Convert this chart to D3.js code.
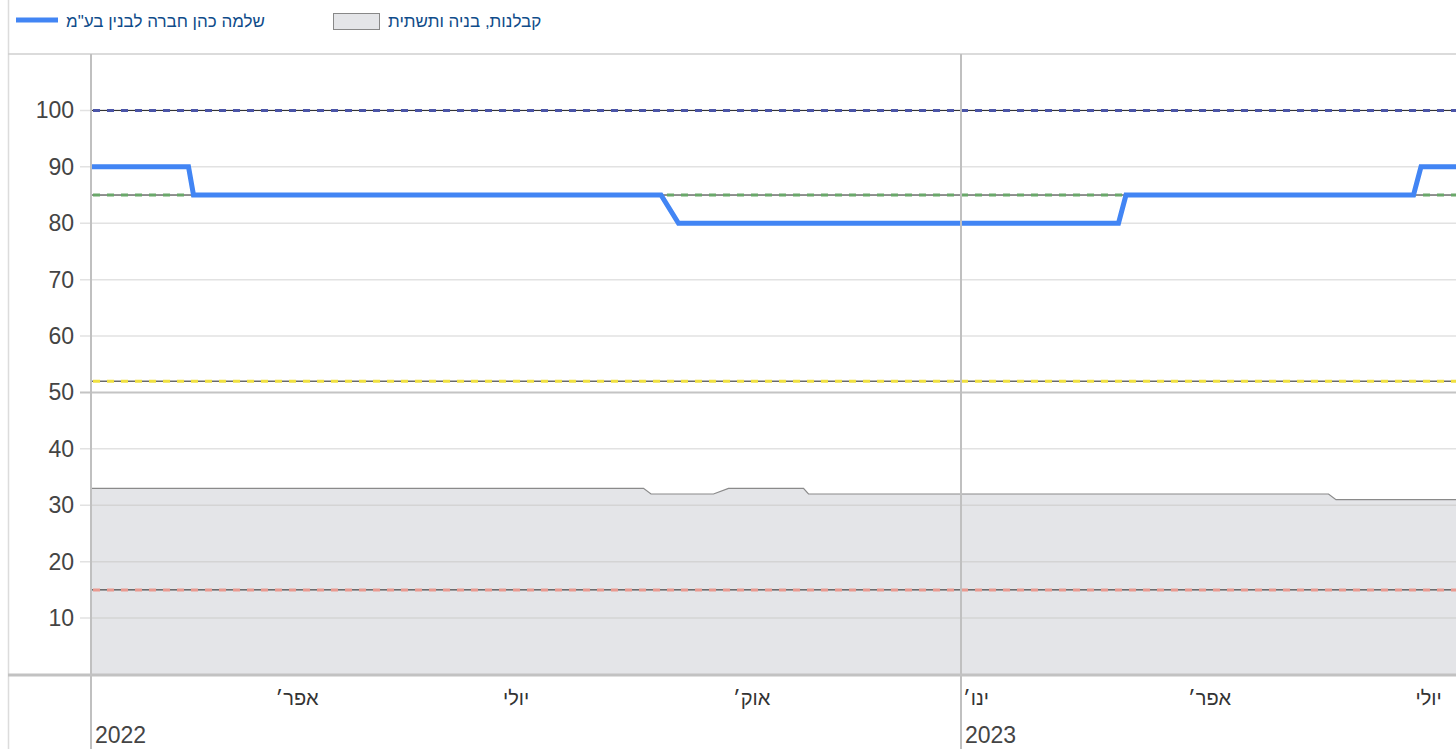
<!DOCTYPE html>
<html>
<head>
<meta charset="utf-8">
<script src="https://cdn.jsdelivr.net/npm/d3@7"></script>
<style>
  html, body { margin: 0; padding: 0; background: #fff; overflow: hidden; }
  svg { display: block; font-family: Arial, "Liberation Sans", sans-serif; }
</style>
</head>
<body>
<svg id="chart" width="1456" height="749"></svg>
<script>
// ---- data ----
const companyName = 'שלמה כהן חברה לבנין בע"מ';
const sectorName = "קבלנות, בניה ותשתית";
const companyDates = ["2022-01-18","2022-02-26","2022-02-28","2022-09-03","2022-09-10","2023-03-05","2023-03-08","2023-07-01","2023-07-04","2023-07-25"];
const companyValues = [90, 90, 85, 85, 80, 80, 85, 85, 90, 90];
const sectorDates = ["2022-01-18","2022-08-27","2022-08-30","2022-09-24","2022-09-30","2022-10-30","2022-11-01","2023-05-28","2023-05-31","2023-07-25"];
const sectorValues = [33, 33, 32, 32, 33, 33, 32, 32, 31, 31];
const refValues = [100, 85, 52, 15];
const refColors = ["#4b55a8", "#6aa86a", "#f0e040", "#e99a90"];
const yTicks = [10, 20, 30, 40, 50, 60, 70, 80, 90, 100];
const monthTicks = ["2022-04-01","2022-07-01","2022-10-01","2023-01-01","2023-04-01","2023-07-01"];
const monthLabels = ["אפר׳","יולי","אוק׳","ינו׳","אפר׳","יולי"];
const yearTicks = ["2022-01-18","2023-01-01"];
const yearLabels = ["2022","2023"];
const xDomain = ["2022-01-18","2023-07-18"];

(function () {
// ---- layout ----
const W = 1456, H = 749;
const pLeft = 91, pRight = 1456, pTop = 54, pBottom = 674.5;
const parse = d3.utcParse("%Y-%m-%d");
const svg = d3.select("#chart");

const x = d3.scaleUtc().domain(xDomain.map(parse)).range([pLeft, pRight]);
const y = d3.scaleLinear().domain([0, 110]).range([pBottom, pTop]);

// frame lines
svg.append("line").attr("x1", 8.5).attr("x2", 8.5).attr("y1", 0).attr("y2", H)
  .attr("stroke", "#dcdcdc").attr("stroke-width", 1.5);
svg.append("line").attr("x1", 8).attr("x2", W).attr("y1", 54).attr("y2", 54)
  .attr("stroke", "#cfcfcf").attr("stroke-width", 1.5);

svg.append("defs").append("clipPath").attr("id", "plotclip")
  .append("rect").attr("x", pLeft).attr("y", pTop).attr("width", pRight - pLeft + 20).attr("height", pBottom - pTop);

// gridlines
const grid = svg.append("g");
grid.selectAll("line").data(yTicks).join("line")
  .attr("x1", 80).attr("x2", W)
  .attr("y1", d => y(d)).attr("y2", d => y(d))
  .attr("stroke", d => d === 50 ? "#c4c4c4" : "#e2e2e2")
  .attr("stroke-width", d => d === 50 ? 2 : 1.5);

// area (sector)
const plot = svg.append("g").attr("clip-path", "url(#plotclip)");
const sector = sectorDates.map((d, i) => ({ date: parse(d), v: sectorValues[i] }));
const company = companyDates.map((d, i) => ({ date: parse(d), v: companyValues[i] }));

plot.append("path").datum(sector)
  .attr("d", d3.area().x(d => x(d.date)).y0(y(0)).y1(d => y(d.v)))
  .attr("fill", "#e4e5e8");
plot.append("path").datum(sector)
  .attr("d", d3.line().x(d => x(d.date)).y(d => y(d.v)))
  .attr("fill", "none").attr("stroke", "#8a8a8a").attr("stroke-width", 1.2);

// gridlines over area
plot.selectAll("line.g2").data(yTicks.filter(d => d < 33)).join("line")
  .attr("x1", pLeft).attr("x2", W)
  .attr("y1", d => y(d)).attr("y2", d => y(d))
  .attr("stroke", "#d4d4d4").attr("stroke-width", 1.5);

// reference lines
refValues.forEach((v, i) => {
  plot.append("line").attr("x1", pLeft).attr("x2", W + 10)
    .attr("y1", y(v)).attr("y2", y(v))
    .attr("stroke", "#222").attr("stroke-width", 1);
  plot.append("line").attr("x1", pLeft + 2).attr("x2", W + 10)
    .attr("y1", y(v)).attr("y2", y(v))
    .attr("stroke", refColors[i]).attr("stroke-width", 3)
    .attr("stroke-dasharray", "7,7");
});

// company line
plot.append("path").datum(company)
  .attr("d", d3.line().x(d => x(d.date)).y(d => y(d.v)))
  .attr("fill", "none").attr("stroke", "#4285f4").attr("stroke-width", 5)
  .attr("stroke-linejoin", "miter");

// vertical axis lines
svg.append("line").attr("x1", pLeft).attr("x2", pLeft).attr("y1", 54).attr("y2", H)
  .attr("stroke", "#c0c0c0").attr("stroke-width", 2);
svg.selectAll("line.yr").data(yearTicks.slice(1)).join("line")
  .attr("x1", d => x(parse(d))).attr("x2", d => x(parse(d)))
  .attr("y1", 54).attr("y2", H)
  .attr("stroke", "#c0c0c0").attr("stroke-width", 2);

// bottom axis line
svg.append("line").attr("x1", 8).attr("x2", W).attr("y1", 675).attr("y2", 675)
  .attr("stroke", "#c2c2c2").attr("stroke-width", 3);

// y labels
svg.append("g").selectAll("text").data(yTicks).join("text")
  .attr("x", 74).attr("y", d => y(d) + 8)
  .attr("text-anchor", "end").attr("font-size", 23).attr("fill", "#444")
  .text(d => d);

// x labels
svg.append("g").selectAll("text").data(monthTicks).join("text")
  .attr("x", d => x(parse(d)) + 2).attr("y", 705)
  .attr("text-anchor", "start").attr("font-size", 20).attr("fill", "#333")
  .text((d, i) => monthLabels[i]);
svg.append("g").selectAll("text").data(yearTicks).join("text")
  .attr("x", d => Math.max(pLeft, x(parse(d))) + 4).attr("y", 743)
  .attr("text-anchor", "start").attr("font-size", 23).attr("fill", "#444")
  .text((d, i) => yearLabels[i]);

// legend
const lg = svg.append("g");
lg.append("line").attr("x1", 16).attr("x2", 58).attr("y1", 20).attr("y2", 20)
  .attr("stroke", "#4285f4").attr("stroke-width", 5);
lg.append("text").attr("x", 66).attr("y", 27).attr("font-size", 17).attr("fill", "#0f4c8a")
  .attr("text-anchor", "start").text(companyName);
lg.append("rect").attr("x", 333.5).attr("y", 13.5).attr("width", 46).attr("height", 16)
  .attr("fill", "#e4e5e8").attr("stroke", "#888").attr("stroke-width", 1);
lg.append("text").attr("x", 388).attr("y", 27).attr("font-size", 17).attr("fill", "#0f4c8a")
  .attr("text-anchor", "start").text(sectorName);
})();
</script>
</body>
</html>
